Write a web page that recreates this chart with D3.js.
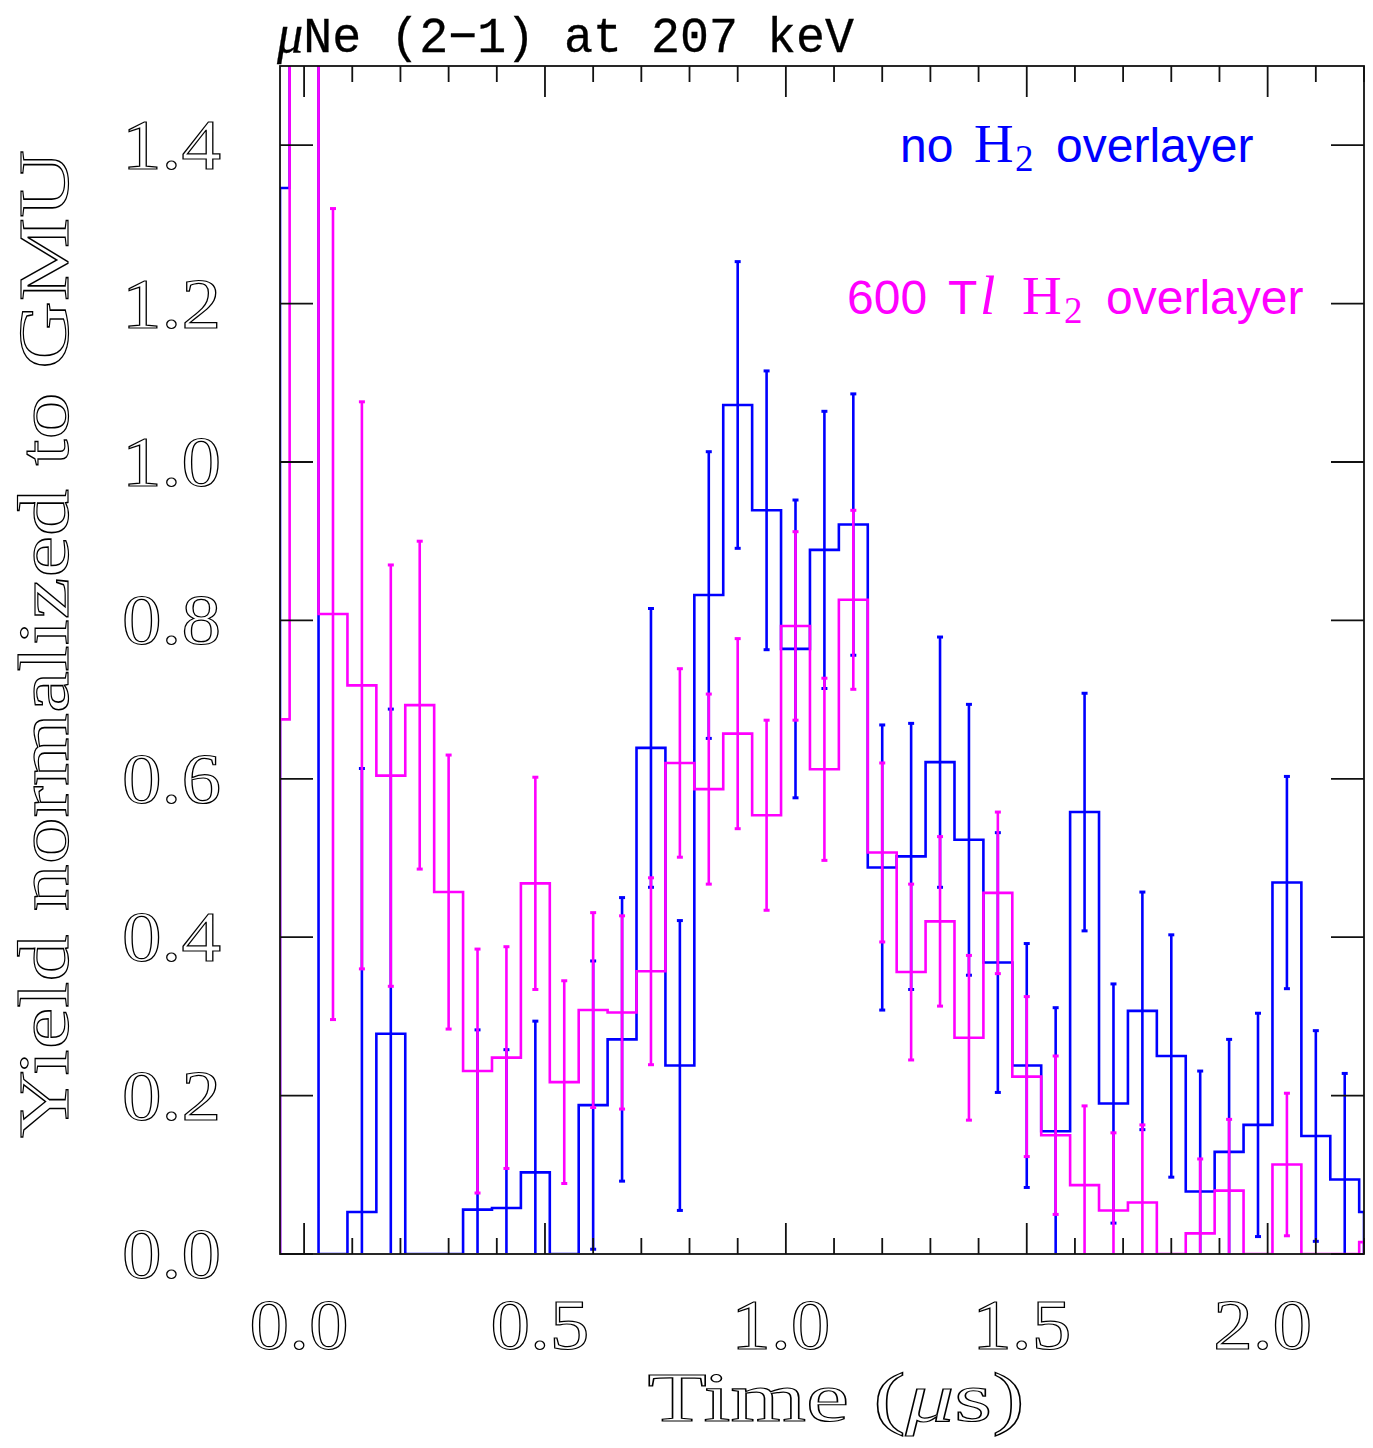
<!DOCTYPE html>
<html>
<head>
<meta charset="utf-8">
<script src="https://cdn.jsdelivr.net/npm/d3@7/dist/d3.min.js"></script>
<style>
  html, body { margin: 0; padding: 0; background: #fff; }
  svg { display: block; }
</style>
</head>
<body>
<svg id="chart" width="1373" height="1448"></svg>
<script>
// Time bins (μs), bin centres; every bin is 0.06 μs wide
const binCenters = [-0.06, 0.00, 0.06, 0.12, 0.18, 0.24, 0.30, 0.36, 0.42, 0.48,
  0.54, 0.60, 0.66, 0.72, 0.78, 0.84, 0.90, 0.96, 1.02, 1.08,
  1.14, 1.20, 1.26, 1.32, 1.38, 1.44, 1.50, 1.56, 1.62, 1.68,
  1.74, 1.80, 1.86, 1.92, 1.98, 2.04, 2.10, 2.16, 2.22];
const binWidth = 0.06;

// Yield normalized to GMU, no H2 overlayer
const yieldBare = [1.346, 2.40, 0, 0.053, 0.278, 0, 0, 0.056, 0.058, 0.103,
  0, 0.188, 0.271, 0.639, 0.238, 0.832, 1.072, 0.939, 0.764, 0.889,
  0.921, 0.488, 0.502, 0.621, 0.523, 0.368, 0.238, 0.155, 0.558, 0.190,
  0.307, 0.250, 0.079, 0.129, 0.163, 0.469, 0.149, 0.094, 0.053];
const errBare = [0.45, 0.50, 0, 0.56, 0.41, 0, 0, 0.227, 0.200, 0.191,
  0, 0.182, 0.179, 0.176, 0.183, 0.181, 0.181, 0.176, 0.188, 0.175,
  0.165, 0.180, 0.168, 0.158, 0.171, 0.164, 0.154, 0.156, 0.150, 0.151,
  0.150, 0.153, 0.152, 0.142, 0.141, 0.134, 0.133, 0.134, 0.130];

// Yield normalized to GMU, 600 Tl H2 overlayer
const yieldH2 = [0.675, 2.80, 0.808, 0.718, 0.604, 0.693, 0.457, 0.231, 0.248, 0.468,
  0.217, 0.308, 0.305, 0.357, 0.620, 0.587, 0.657, 0.554, 0.793, 0.612,
  0.826, 0.507, 0.356, 0.420, 0.273, 0.456, 0.224, 0.150, 0.087, 0.055,
  0.065, 0, 0.026, 0.080, 0, 0.113, 0, 0, 0.015];
const errH2 = [0.40, 0.60, 0.512, 0.358, 0.266, 0.207, 0.173, 0.154, 0.140, 0.134,
  0.128, 0.123, 0.122, 0.118, 0.119, 0.120, 0.120, 0.120, 0.119, 0.115,
  0.113, 0.113, 0.111, 0.107, 0.104, 0.102, 0.101, 0.100, 0.100, 0.098,
  0.098, 0, 0.094, 0.090, 0, 0.090, 0, 0, 0.090];

const xTickLabels = ["0.0", "0.5", "1.0", "1.5", "2.0"];
const yTickLabels = ["0.0", "0.2", "0.4", "0.6", "0.8", "1.0", "1.2", "1.4"];

const svg = d3.select("#chart");
const plotLeft = 280, plotRight = 1364, plotTop = 66, plotBottom = 1254;

const x = d3.scaleLinear().domain([-0.05, 2.2]).range([plotLeft, plotRight]);
const y = d3.scaleLinear().domain([0, 1.5]).range([plotBottom, plotTop]);

const BLUE = "#0000ff", MAGENTA = "#ff00ff";

// Clip slightly inside the frame so zero-level steps hide under the axis line
svg.append("defs").append("clipPath").attr("id", "plotClip")
  .append("rect").attr("x", plotLeft).attr("y", plotTop)
  .attr("width", plotRight - plotLeft).attr("height", plotBottom - plotTop - 1);

const plot = svg.append("g").attr("clip-path", "url(#plotClip)");

function histPoints(values) {
  const [x0, x1] = x.domain();
  const pts = [[x0, 0]];
  binCenters.forEach((c, i) => {
    const lo = Math.max(c - binWidth / 2, x0);
    const hi = Math.min(c + binWidth / 2, x1);
    if (hi <= lo) return;
    pts.push([lo, values[i]], [hi, values[i]]);
  });
  pts.push([x1, 0]);
  return pts;
}

const line = d3.line().x(d => x(d[0])).y(d => y(d[1]));

function drawSeries(values, errs, color) {
  const g = plot.append("g");
  g.append("path")
    .attr("d", line(histPoints(values)))
    .attr("fill", "none")
    .attr("stroke", color)
    .attr("stroke-width", 2.6)
    .attr("stroke-linejoin", "miter");

  const bars = binCenters.map((c, i) => ({ c, v: values[i], e: errs[i] }))
    .filter(d => d.v > 0 && d.e > 0);

  g.selectAll("line.err").data(bars).join("line")
    .attr("class", "err")
    .attr("x1", d => x(d.c)).attr("x2", d => x(d.c))
    .attr("y1", d => y(d.v - d.e)).attr("y2", d => y(d.v + d.e))
    .attr("stroke", color).attr("stroke-width", 2.6);

  const caps = [];
  bars.forEach(d => { caps.push({ c: d.c, v: d.v - d.e }); caps.push({ c: d.c, v: d.v + d.e }); });
  g.selectAll("line.cap").data(caps).join("line")
    .attr("class", "cap")
    .attr("x1", d => x(d.c) - 3).attr("x2", d => x(d.c) + 3)
    .attr("y1", d => y(d.v)).attr("y2", d => y(d.v))
    .attr("stroke", color).attr("stroke-width", 3);
}

drawSeries(yieldBare, errBare, BLUE);
drawSeries(yieldH2, errH2, MAGENTA);

// Frame and ticks on all four sides
const axes = svg.append("g").attr("stroke", "#111");
axes.append("rect")
  .attr("x", plotLeft).attr("y", plotTop)
  .attr("width", plotRight - plotLeft).attr("height", plotBottom - plotTop)
  .attr("fill", "none").attr("stroke-width", 1.8);

const xMinor = d3.range(0, 23).map(i => i / 10);
const xMajor = xTickLabels.map(Number);
xMinor.forEach(v => {
  const major = xMajor.some(m => Math.abs(m - v) < 1e-9);
  const len = major ? 31 : 16;
  axes.append("line").attr("x1", x(v)).attr("x2", x(v))
    .attr("y1", plotBottom).attr("y2", plotBottom - len).attr("stroke-width", 1.8);
  axes.append("line").attr("x1", x(v)).attr("x2", x(v))
    .attr("y1", plotTop).attr("y2", plotTop + len).attr("stroke-width", 1.8);
});
yTickLabels.map(Number).forEach(v => {
  axes.append("line").attr("x1", plotLeft).attr("x2", plotLeft + 33)
    .attr("y1", y(v)).attr("y2", y(v)).attr("stroke-width", 1.8);
  axes.append("line").attr("x1", plotRight - 33).attr("x2", plotRight)
    .attr("y1", y(v)).attr("y2", y(v)).attr("stroke-width", 1.8);
});

// Outlined serif lettering for the axes
function outlined(sel) {
  return sel.attr("font-family", "'Liberation Serif', 'DejaVu Serif', serif")
    .attr("fill", "#fff").attr("stroke", "#000").attr("stroke-width", 1.2);
}

svg.append("g").selectAll("text").data(xTickLabels).join("text")
  .call(outlined)
  .attr("x", d => x(+d) - 5).attr("y", 1349)
  .attr("text-anchor", "middle").attr("font-size", 71)
  .attr("textLength", 99).attr("lengthAdjust", "spacingAndGlyphs")
  .text(d => d);

svg.append("g").selectAll("text").data(yTickLabels).join("text")
  .call(outlined)
  .attr("x", 221).attr("y", d => y(+d) + 24)
  .attr("text-anchor", "end").attr("font-size", 71)
  .attr("textLength", 99).attr("lengthAdjust", "spacingAndGlyphs")
  .text(d => d);

const xTitle = svg.append("text").call(outlined)
  .attr("x", 836).attr("y", 1421).attr("text-anchor", "middle")
  .attr("font-size", 70).attr("textLength", 377).attr("lengthAdjust", "spacingAndGlyphs");
xTitle.append("tspan").text("Time (");
xTitle.append("tspan").attr("font-style", "italic").text("μ");
xTitle.append("tspan").text("s)");

svg.append("text").call(outlined)
  .attr("transform", "translate(68,644) rotate(-90)")
  .attr("text-anchor", "middle").attr("font-size", 71)
  .attr("textLength", 988).attr("lengthAdjust", "spacingAndGlyphs")
  .text("Yield normalized to GMU");

// Title
const title = svg.append("text")
  .attr("x", 277).attr("y", 52)
  .attr("font-family", "'Liberation Mono', 'DejaVu Sans Mono', monospace")
  .attr("font-size", 50).attr("fill", "#000")
  .attr("stroke", "#000").attr("stroke-width", 0.3)
  .attr("textLength", 577).attr("lengthAdjust", "spacingAndGlyphs");
title.append("tspan").attr("font-family", "'Liberation Serif', serif")
  .attr("font-style", "italic").attr("font-size", 54).text("μ");
title.append("tspan").text("Ne (2−1) at 207 keV");

// Legend
const SANS = "'Liberation Sans', Arial, sans-serif";
const SERIF = "'Liberation Serif', 'DejaVu Serif', serif";

const leg1 = svg.append("text").attr("y", 162).attr("fill", BLUE);
leg1.append("tspan").attr("x", 900).attr("font-family", SANS).attr("font-size", 48).text("no");
leg1.append("tspan").attr("x", 974).attr("font-family", SERIF).attr("font-size", 55).text("H");
leg1.append("tspan").attr("x", 1015).attr("dy", 9).attr("font-family", SERIF).attr("font-size", 37).text("2");
leg1.append("tspan").attr("x", 1056).attr("dy", -9).attr("font-family", SANS).attr("font-size", 48).text("overlayer");

const leg2 = svg.append("text").attr("y", 314).attr("fill", MAGENTA);
leg2.append("tspan").attr("x", 847).attr("font-family", SANS).attr("font-size", 48).text("600");
leg2.append("tspan").attr("x", 948).attr("font-family", SANS).attr("font-size", 48).text("T");
leg2.append("tspan").attr("x", 980).attr("font-family", SERIF).attr("font-style", "italic").attr("font-size", 55).text("l");
leg2.append("tspan").attr("x", 1022).attr("font-family", SERIF).attr("font-size", 55).text("H");
leg2.append("tspan").attr("x", 1064).attr("dy", 9).attr("font-family", SERIF).attr("font-size", 37).text("2");
leg2.append("tspan").attr("x", 1106).attr("dy", -9).attr("font-family", SANS).attr("font-size", 48).text("overlayer");
</script>
</body>
</html>
